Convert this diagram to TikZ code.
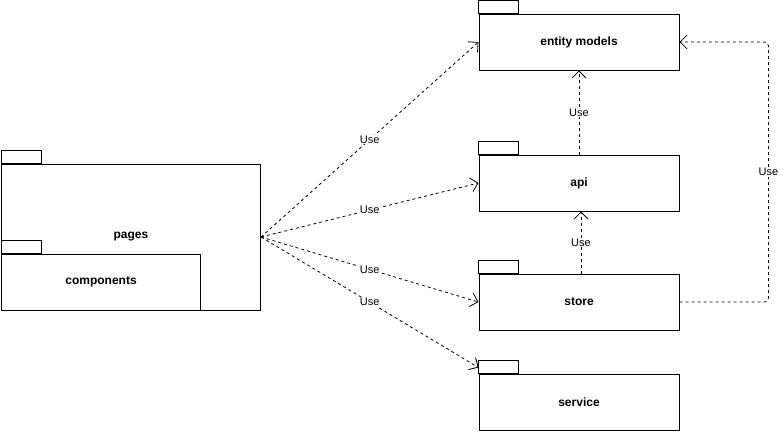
\documentclass[tikz,border=0pt]{standalone}
\usepackage{fontspec}
\setmainfont{Liberation Sans}
\usetikzlibrary{arrows.meta}

\begin{document}
\begin{tikzpicture}[x=1pt, y=-1pt,
pkg/.style={draw, fill=white, line width=1pt, inner sep=0pt,
 minimum width=200pt, minimum height=56pt,
 font=\bfseries\fontsize{12}{14}\selectfont},
dep/.style={draw, line width=0.8pt, dash pattern=on 3pt off 3pt,
 -{Straight Barb[length=7pt,width=14pt]}},
lbl/.style={fill=white, inner sep=1pt, font=\fontsize{11}{13}\selectfont}
]
\useasboundingbox (0,0) rectangle (784,431);

\node[pkg, minimum width=259pt, minimum height=146pt] (pages) at (131,237) {pages};
\node[pkg, minimum width=199pt] (comp) at (101,282) {components};
\node[pkg] (ent) at (579,42) {entity models};
\node[pkg] (api) at (579,183) {api};
\node[pkg] (store) at (579,302) {store};
\node[pkg] (svc) at (579,402) {service};

\foreach \n in {pages,comp,ent,api,store,svc}
 \draw[line width=1pt, fill=white] (\n.north west) rectangle ++(40,-13);

\draw[dep] (pages.east) -- (ent.west) node[lbl, midway] {Use};
\draw[dep] (pages.east) -- (api.west) node[lbl, midway] {Use};
\draw[dep] (pages.east) -- (store.west) node[lbl, midway] {Use};
\draw[dep] (pages.east) -- ([yshift=6pt]svc.north west) node[lbl, midway] {Use};
\draw[dep] (api.north) -- (ent.south) node[lbl, midway] {Use};
\draw[dep] ([xshift=2pt]store.north) -- ([xshift=2pt]api.south) node[lbl, midway] {Use};
\draw[dep, rounded corners=4pt] (store.east) -- ++(89,0) |- (ent.east) node[lbl, pos=0.25] {Use};
%\draw[dep] (pages.east) -- (comp.east);

\end{tikzpicture}
\end{document}
